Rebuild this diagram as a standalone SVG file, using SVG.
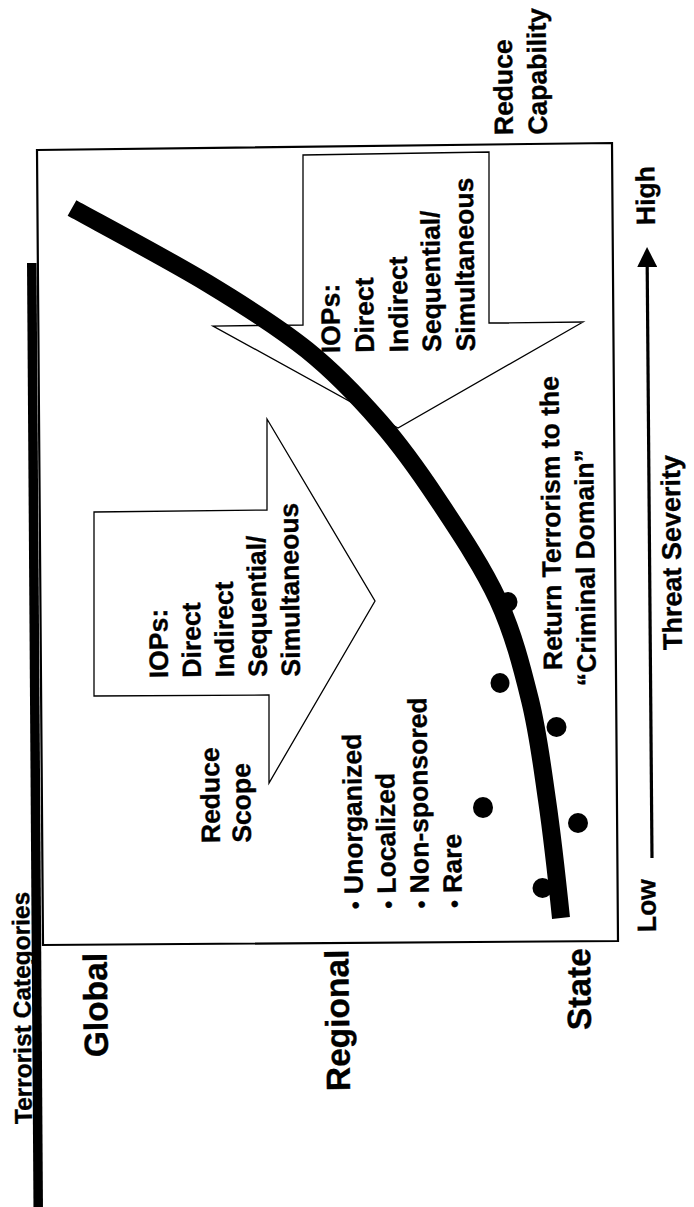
<svg xmlns="http://www.w3.org/2000/svg" width="694" height="1207" viewBox="0 0 694 1207">
<style>
.t{font-family:"Liberation Sans",Arial,Helvetica,sans-serif;font-weight:bold;font-size:26.5px;fill:#000;stroke:#000;stroke-width:0.35px}
.big{font-size:33.5px}
.cat{font-size:24.5px}
.sev{font-size:27px}
.bul{font-size:22px}
.shape{fill:#fff;stroke:#000;stroke-width:1.3;stroke-linejoin:miter}
.frame{fill:#fff;stroke:#000;stroke-width:2.2}
.dot{fill:#000}
</style>
<defs>
<marker id="ah" markerUnits="userSpaceOnUse" markerWidth="20" markerHeight="20" refX="0" refY="10" orient="auto" viewBox="0 0 20 20">
<path d="M0,0 L20,10 L0,20 Z" fill="#000"/>
</marker>
</defs>
<rect width="694" height="1207" fill="#fff"/>

<g id="frame">
<polygon class="frame" points="37,150 612,143 618,941 43,945"/>
</g>

<g id="category-bar">
<polygon points="27,263 36.5,263 43,1210 33.5,1210" fill="#000"/>
<text class="t cat" transform="translate(32,1124) rotate(-90.7)">Terrorist Categories</text>
</g>

<g id="category-labels">
<text class="t big" transform="translate(108,1057) rotate(-90.7)">Global</text>
<text class="t big" transform="translate(350,1091) rotate(-90.7)">Regional</text>
<text class="t big" transform="translate(591,1030) rotate(-90.7)">State</text>
</g>

<g id="arrow-capability">
<polygon class="shape" points="303,155 489,152 489,323 583,322 398,428 213,326 303,325"/>
<text class="t" transform="translate(340,353) rotate(-90.7)"><tspan x="0" y="0">IOPs:</tspan><tspan x="0" y="34">Direct</tspan><tspan x="0" y="68">Indirect</tspan><tspan x="0" y="101">Sequential/</tspan><tspan x="0" y="135">Simultaneous</tspan></text>
</g>

<g id="arrow-scope">
<polygon class="shape" points="94,512 267,510 267,419 375,601 269,783 269,695 94,696"/>
<text class="t" transform="translate(168,678) rotate(-90.7)"><tspan x="0" y="0">IOPs:</tspan><tspan x="0" y="33">Direct</tspan><tspan x="0" y="66">Indirect</tspan><tspan x="0" y="99">Sequential/</tspan><tspan x="0" y="132">Simultaneous</tspan></text>
</g>

<g id="curve">
<path d="M72,208 C94.5,220.5 167.8,259.3 207,283 C246.2,306.7 278.2,326.8 307,350 C335.8,373.2 358.2,397 380,422 C401.8,447 418.3,470.3 438,500 C457.7,529.7 482.7,566.7 498,600 C513.3,633.3 521.8,666.7 530,700 C538.2,733.3 541.8,764.2 547,800 C552.2,835.8 558.7,895.8 561,918" fill="none" stroke="#000" stroke-width="18" stroke-linecap="butt"/>
</g>

<g id="dots">
<ellipse class="dot" cx="508" cy="602" rx="9.5" ry="10"/>
<ellipse class="dot" cx="500" cy="683" rx="9.5" ry="10"/>
<ellipse class="dot" cx="556.5" cy="727" rx="10" ry="10"/>
<ellipse class="dot" cx="483" cy="807.5" rx="10" ry="10.5"/>
<ellipse class="dot" cx="578" cy="823" rx="10" ry="10"/>
<ellipse class="dot" cx="542.5" cy="888" rx="10" ry="10"/>
</g>

<g id="labels">
<text class="t" transform="translate(513,135) rotate(-90.7)"><tspan x="0" y="0">Reduce</tspan><tspan x="0" y="34">Capability</tspan></text>
<text class="t" transform="translate(220,843) rotate(-90.7)"><tspan x="0" y="0">Reduce</tspan><tspan x="0" y="31">Scope</tspan></text>
<text class="t" transform="translate(363,909) rotate(-90.7)"><tspan x="0" y="0"><tspan class="bul">•</tspan> Unorganized</tspan><tspan x="0" y="33"><tspan class="bul">•</tspan> Localized</tspan><tspan x="0" y="66"><tspan class="bul">•</tspan> Non-sponsored</tspan><tspan x="0" y="99"><tspan class="bul">•</tspan> Rare</tspan></text>
<text class="t" transform="translate(562,670) rotate(-90.7)">Return Terrorism to the</text>
<text class="t" transform="translate(596,686) rotate(-90.7)">“Criminal Domain”</text>
</g>

<g id="axis">
<line x1="652" y1="858" x2="647.2" y2="267" stroke="#000" stroke-width="3.2" marker-end="url(#ah)"/>
<text class="t" transform="translate(655,225) rotate(-90.7)">High</text>
<text class="t" transform="translate(656,932) rotate(-90.7)">Low</text>
<text class="t sev" transform="translate(682,650) rotate(-90.7)">Threat Severity</text>
</g>
</svg>
